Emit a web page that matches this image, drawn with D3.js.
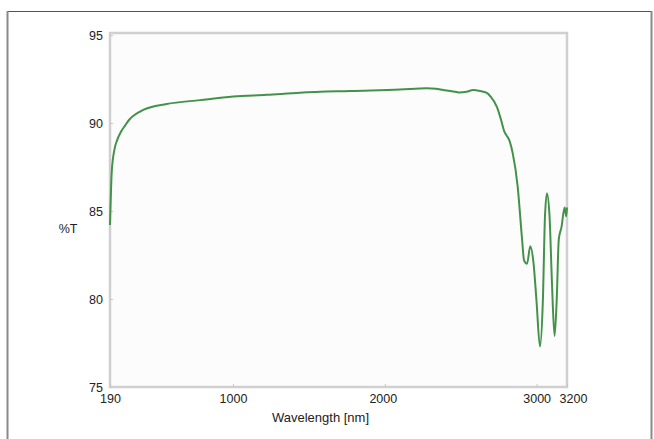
<!DOCTYPE html>
<html>
<head>
<meta charset="utf-8">
<script src="https://cdn.jsdelivr.net/npm/d3@7"></script>
<style>
  html, body { margin: 0; padding: 0; background: #ffffff; }
  svg { display: block; }
  text { font-family: "Liberation Sans", Arial, sans-serif; fill: #222; }
</style>
</head>
<body>
<div id="chart"></div>
<script>
// ---- data ----
const wavelength = [190, 202, 222, 236, 262, 289, 318, 343, 388, 409, 563, 783, 1002, 1222, 1441, 1771, 2100, 2276, 2337, 2383, 2474, 2489, 2539, 2581, 2627, 2669, 2697, 2739, 2765, 2788, 2801, 2821, 2842, 2875, 2904, 2917, 2937, 2958, 2980, 2999, 3022, 3041, 3055, 3068, 3085, 3101, 3118, 3132, 3146, 3164, 3184, 3195, 3200];
const transmittance = [84.2, 87.3, 88.6, 89.0, 89.5, 89.85, 90.2, 90.4, 90.65, 90.75, 91.08, 91.3, 91.5, 91.6, 91.72, 91.82, 91.9, 91.97, 91.95, 91.88, 91.76, 91.74, 91.78, 91.87, 91.82, 91.72, 91.5, 90.9, 90.2, 89.5, 89.3, 89.0, 88.3, 86.4, 83.4, 82.2, 82.0, 83.0, 82.0, 79.9, 77.3, 79.9, 84.7, 86.0, 84.7, 80.9, 77.9, 79.9, 83.4, 84.1, 85.2, 84.7, 85.2];
const xTicks = [190, 1000, 2000, 3000, 3200];
const yTicks = [75, 80, 85, 90, 95];
const xTitle = "Wavelength [nm]";
const yTitle = "%T";

(function () {
// ---- layout ----
const W = 654, H = 439;
const mLeft = 110, mRight = 567, mTop = 35, mBottom = 387;

const svg = d3.select("#chart").append("svg").attr("width", W).attr("height", H);

// outer frame
svg.append("line").attr("x1", 7).attr("x2", 652).attr("y1", 11.5).attr("y2", 11.5)
  .attr("stroke", "#555").attr("stroke-width", 1.2);
svg.append("line").attr("x1", 7.5).attr("x2", 7.5).attr("y1", 11).attr("y2", H)
  .attr("stroke", "#8a8a8a").attr("stroke-width", 2);
svg.append("line").attr("x1", 651.5).attr("x2", 651.5).attr("y1", 11).attr("y2", H)
  .attr("stroke", "#8a8a8a").attr("stroke-width", 2);

const x = d3.scaleLinear().domain([190, 3200]).range([mLeft, mRight]);
const y = d3.scaleLinear().domain([75, 95]).range([mBottom, mTop]);

// plot area
svg.append("rect")
  .attr("x", mLeft).attr("y", mTop - 2)
  .attr("width", mRight - mLeft).attr("height", mBottom - mTop + 2)
  .attr("fill", "#fcfcfc")
  .attr("stroke", "#d0d0d0").attr("stroke-width", 2.5);

// axes
const xAxis = d3.axisBottom(x).tickValues(xTicks).tickSize(-3).tickPadding(7).tickFormat(d3.format("d"));
const gx = svg.append("g").attr("transform", `translate(0,${mBottom})`).call(xAxis);
gx.select(".domain").remove();
gx.selectAll(".tick line").attr("stroke", "#c8c8c8");
gx.selectAll(".tick text").attr("font-size", 12.5).attr("fill", "#222")
  .attr("font-family", "Liberation Sans, Arial, sans-serif")
  .attr("dx", d => d === 3200 ? 6 : (d === 2000 ? -2 : 0));

const yAxis = d3.axisLeft(y).tickValues(yTicks).tickSize(-3).tickPadding(7);
const gy = svg.append("g").attr("transform", `translate(${mLeft},0)`).call(yAxis);
gy.select(".domain").remove();
gy.selectAll(".tick line").attr("stroke", "#c8c8c8");
gy.selectAll(".tick text").attr("font-size", 12.5).attr("fill", "#222")
  .attr("font-family", "Liberation Sans, Arial, sans-serif");

// titles
svg.append("text").attr("x", (mLeft + mRight) / 2 - 18).attr("y", 422)
  .attr("text-anchor", "middle").attr("font-size", 13).text(xTitle);
svg.append("text").attr("x", 68).attr("y", 233)
  .attr("text-anchor", "middle").attr("font-size", 12.5).text(yTitle);

// data line
const pts = wavelength.map((w, i) => [w, transmittance[i]]);
const line = d3.line().x(d => x(d[0])).y(d => y(d[1])).curve(d3.curveMonotoneX);
svg.append("path").datum(pts)
  .attr("d", line)
  .attr("fill", "none")
  .attr("stroke", "#43924a")
  .attr("stroke-width", 2)
  .attr("stroke-linejoin", "round");
})();
</script>
</body>
</html>
